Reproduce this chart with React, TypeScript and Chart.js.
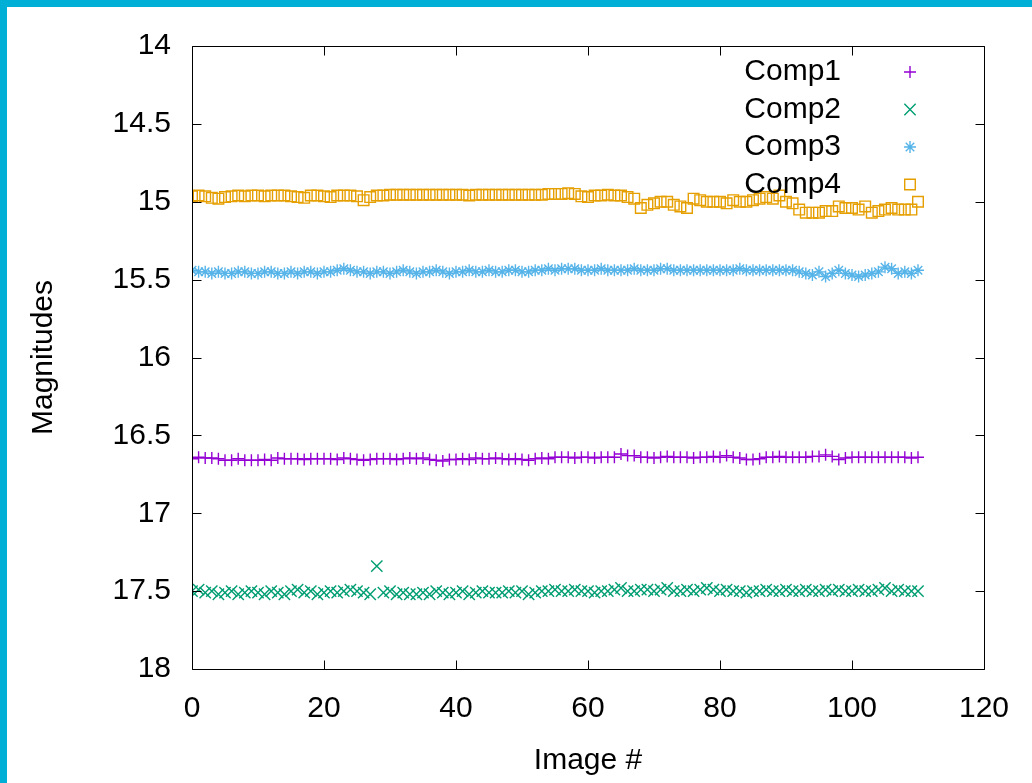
import React, { useEffect, useRef } from 'react';
import { Chart, registerables } from 'chart.js';
import { drawPoint } from 'chart.js/helpers';

Chart.register(...registerables);

const seriesNames = ['Comp1', 'Comp2', 'Comp3', 'Comp4'];
const seriesColors = ['#9400D3', '#009E73', '#56B4E9', '#E69F00'];
const pointStyles = ['cross', 'crossRot', 'star', 'rect'];
const pointRadii = [6, 8, 6, 7.5];

const comp1 = [
  16.65, 16.64, 16.645, 16.645, 16.65, 16.66, 16.66, 16.65, 16.66, 16.66,
  16.66, 16.655, 16.66, 16.645, 16.65, 16.65, 16.65, 16.655, 16.65, 16.65,
  16.65, 16.65, 16.655, 16.645, 16.65, 16.655, 16.66, 16.655, 16.65, 16.65,
  16.65, 16.655, 16.65, 16.645, 16.65, 16.645, 16.655, 16.66, 16.665, 16.655,
  16.655, 16.65, 16.655, 16.645, 16.65, 16.65, 16.645, 16.65, 16.655, 16.65,
  16.655, 16.66, 16.65, 16.645, 16.65, 16.64, 16.64, 16.64, 16.645, 16.64,
  16.64, 16.645, 16.64, 16.64, 16.64, 16.62, 16.63, 16.63, 16.64, 16.64,
  16.645, 16.64, 16.635, 16.64, 16.64, 16.64, 16.645, 16.64, 16.64, 16.635,
  16.64, 16.63, 16.64, 16.645, 16.655, 16.655, 16.65, 16.64, 16.64, 16.635,
  16.64, 16.64, 16.64, 16.64, 16.635, 16.635, 16.625, 16.635, 16.655, 16.645,
  16.64, 16.64, 16.64, 16.64, 16.64, 16.64, 16.64, 16.64, 16.64, 16.645, 16.64,
];

const comp2 = [
  17.5, 17.49, 17.51, 17.5, 17.52, 17.51, 17.5, 17.52, 17.51, 17.5,
  17.51, 17.52, 17.5, 17.51, 17.52, 17.5, 17.49, 17.51, 17.5, 17.52,
  17.51, 17.5, 17.51, 17.5, 17.49, 17.5, 17.51, 17.52, 17.34, 17.51,
  17.5, 17.52, 17.51, 17.52, 17.52, 17.51, 17.52, 17.5, 17.51, 17.52,
  17.51, 17.5, 17.52, 17.51, 17.5, 17.51, 17.51, 17.51, 17.5, 17.51,
  17.5, 17.52, 17.51, 17.5, 17.5, 17.49, 17.5, 17.5, 17.49, 17.5,
  17.5, 17.51, 17.5, 17.5, 17.49, 17.48, 17.5, 17.5, 17.49, 17.49,
  17.5, 17.49, 17.48, 17.5, 17.5, 17.49, 17.5, 17.49, 17.48, 17.49,
  17.5, 17.49, 17.5, 17.5, 17.51, 17.5, 17.5, 17.49, 17.5, 17.5,
  17.49, 17.5, 17.5, 17.49, 17.5, 17.5, 17.49, 17.5, 17.49, 17.5,
  17.5, 17.49, 17.5, 17.5, 17.49, 17.48, 17.5, 17.49, 17.5, 17.5, 17.5,
];

const comp3 = [
  15.44, 15.45, 15.45, 15.46, 15.45, 15.46, 15.46, 15.45, 15.45, 15.46,
  15.46, 15.45, 15.45, 15.46, 15.46, 15.45, 15.46, 15.45, 15.45, 15.46,
  15.45, 15.45, 15.44, 15.43, 15.44, 15.45, 15.45, 15.46, 15.45, 15.45,
  15.46, 15.45, 15.44, 15.45, 15.46, 15.45, 15.45, 15.44, 15.45, 15.46,
  15.45, 15.45, 15.44, 15.45, 15.45, 15.44, 15.45, 15.45, 15.44, 15.44,
  15.45, 15.45, 15.44, 15.44, 15.43, 15.44, 15.43, 15.43, 15.43, 15.44,
  15.44, 15.44, 15.43, 15.44, 15.44, 15.44, 15.44, 15.43, 15.44, 15.44,
  15.44, 15.43, 15.43, 15.44, 15.44, 15.44, 15.44, 15.44, 15.44, 15.44,
  15.44, 15.44, 15.44, 15.43, 15.44, 15.44, 15.44, 15.44, 15.44, 15.44,
  15.44, 15.44, 15.45, 15.46, 15.47, 15.45, 15.48, 15.46, 15.44, 15.46,
  15.47, 15.48, 15.47, 15.46, 15.45, 15.42, 15.43, 15.46, 15.45, 15.46, 15.44,
];

const comp4 = [
  14.965, 14.96, 14.965, 14.975, 14.98, 14.97, 14.965, 14.96, 14.965, 14.96,
  14.96, 14.965, 14.96, 14.96, 14.96, 14.965, 14.97, 14.975, 14.96, 14.96,
  14.965, 14.97, 14.96, 14.96, 14.96, 14.965, 14.99, 14.97, 14.96, 14.96,
  14.955, 14.955, 14.955, 14.955, 14.955, 14.955, 14.955, 14.955, 14.955, 14.955,
  14.955, 14.955, 14.96, 14.955, 14.955, 14.955, 14.955, 14.955, 14.955, 14.955,
  14.955, 14.955, 14.955, 14.955, 14.95, 14.95, 14.95, 14.945, 14.95, 14.965,
  14.97, 14.96, 14.96, 14.955, 14.96, 14.96, 14.97, 14.98, 15.04, 15.02,
  15.01, 15.0, 15.0, 15.02, 15.03, 15.04, 14.98, 14.99, 15.0, 15.0,
  15.0, 15.01, 14.99, 15.0, 15.0, 14.99, 14.98, 14.97, 14.98, 14.96,
  15.0, 15.01, 15.05, 15.07, 15.07, 15.07, 15.06, 15.06, 15.03, 15.04,
  15.04, 15.05, 15.03, 15.07, 15.06, 15.05, 15.04, 15.05, 15.05, 15.05, 15.0,
];

const seriesValues = [comp1, comp2, comp3, comp4];

const xMin = 0;
const xMax = 120;
const xStep = 20;
const yMin = 14;
const yMax = 18;
const yStep = 0.5;

const FONT_FAMILY = '"Liberation Sans", Arial, sans-serif';

const framePlugin = {
  id: 'gnuplotFrame',
  afterDraw(chart: any) {
    const { ctx, chartArea: a } = chart;
    const xs = chart.scales.x;
    const ys = chart.scales.y;
    ctx.save();
    ctx.strokeStyle = '#000';
    ctx.lineWidth = 1;
    const L = Math.round(a.left) + 0.5;
    const R = Math.round(a.right) + 0.5;
    const T = Math.round(a.top) + 0.5;
    const B = Math.round(a.bottom) + 0.5;
    ctx.beginPath();
    ctx.rect(L, T, R - L, B - T);
    const tl = 9;
    for (const t of xs.ticks) {
      const px = Math.round(xs.getPixelForValue(t.value)) + 0.5;
      ctx.moveTo(px, B);
      ctx.lineTo(px, B - tl);
      ctx.moveTo(px, T);
      ctx.lineTo(px, T + tl);
    }
    for (const t of ys.ticks) {
      const py = Math.round(ys.getPixelForValue(t.value)) + 0.5;
      ctx.moveTo(L, py);
      ctx.lineTo(L + tl, py);
      ctx.moveTo(R, py);
      ctx.lineTo(R - tl, py);
    }
    ctx.stroke();

    // key (legend), gnuplot style: right-aligned text with sample on the right
    const textRight = 834;
    const baseline0 = 73;
    const rowH = 37.5;
    const markX = 903;
    const markY0 = 65;
    ctx.font = `30px ${FONT_FAMILY}`;
    ctx.textAlign = 'right';
    ctx.textBaseline = 'alphabetic';
    chart.data.datasets.forEach((ds: any, i: number) => {
      ctx.fillStyle = '#000';
      ctx.fillText(ds.label, textRight, baseline0 + i * rowH);
      ctx.fillStyle = 'rgba(0,0,0,0)';
      ctx.strokeStyle = ds.borderColor;
      ctx.lineWidth = ds.pointBorderWidth;
      drawPoint(ctx, {
        pointStyle: ds.pointStyle,
        radius: ds.pointRadius,
        rotation: 0,
        borderWidth: ds.pointBorderWidth,
      } as any, markX, markY0 + i * rowH);
    });
    ctx.restore();
  },
};

export default function App() {
  const canvasRef = useRef<HTMLCanvasElement | null>(null);

  useEffect(() => {
    const canvas = canvasRef.current;
    if (!canvas) return;
    const datasets = seriesNames.map((name, i) => ({
      label: name,
      data: seriesValues[i].map((v, idx) => ({ x: idx, y: v })),
      showLine: false,
      borderColor: seriesColors[i],
      backgroundColor: 'rgba(0,0,0,0)',
      pointStyle: pointStyles[i],
      pointRadius: pointRadii[i],
      pointBorderWidth: 1.4,
      pointBackgroundColor: 'rgba(0,0,0,0)',
      pointBorderColor: seriesColors[i],
    }));

    const chart = new Chart(canvas, {
      type: 'scatter',
      data: { datasets } as any,
      options: {
        responsive: false,
        animation: false,
        devicePixelRatio: 1,
        layout: { padding: { left: 0, top: 39, right: 48, bottom: 0 } },
        plugins: {
          legend: { display: false },
          tooltip: { enabled: false },
        },
        scales: {
          x: {
            type: 'linear',
            min: xMin,
            max: xMax,
            grid: { display: false, drawTicks: false },
            border: { display: false },
            ticks: {
              stepSize: xStep,
              color: '#000',
              padding: 22,
              font: { family: FONT_FAMILY, size: 30 },
              maxRotation: 0,
            },
            title: {
              display: true,
              text: 'Image #',
              color: '#000',
              font: { family: FONT_FAMILY, size: 30 },
              padding: { top: 0, bottom: 4 },
            },
            afterFit: (scale: any) => {
              scale.height = 114;
            },
          },
          y: {
            type: 'linear',
            min: yMin,
            max: yMax,
            reverse: true,
            grid: { display: false, drawTicks: false },
            border: { display: false },
            ticks: {
              stepSize: yStep,
              color: '#000',
              padding: 21,
              autoSkip: false,
              font: { family: FONT_FAMILY, size: 30 },
              callback: (v: any) => String(v),
            },
            title: {
              display: true,
              text: 'Magnitudes',
              color: '#000',
              font: { family: FONT_FAMILY, size: 30 },
              padding: { top: 19, bottom: 0 },
            },
            afterFit: (scale: any) => {
              scale.width = 185;
            },
          },
        },
      } as any,
      plugins: [framePlugin],
    });
    return () => chart.destroy();
  }, []);

  return (
    <div
      style={{
        position: 'fixed',
        left: 0,
        top: 0,
        width: 1032,
        height: 783,
        background: '#00AFD5',
        overflow: 'hidden',
      }}
    >
      <div
        style={{
          position: 'absolute',
          left: 7,
          top: 7,
          width: 1025,
          height: 776,
          background: '#fff',
        }}
      >
        <canvas ref={canvasRef} width={1025} height={776} style={{ display: 'block' }} />
      </div>
    </div>
  );
}
